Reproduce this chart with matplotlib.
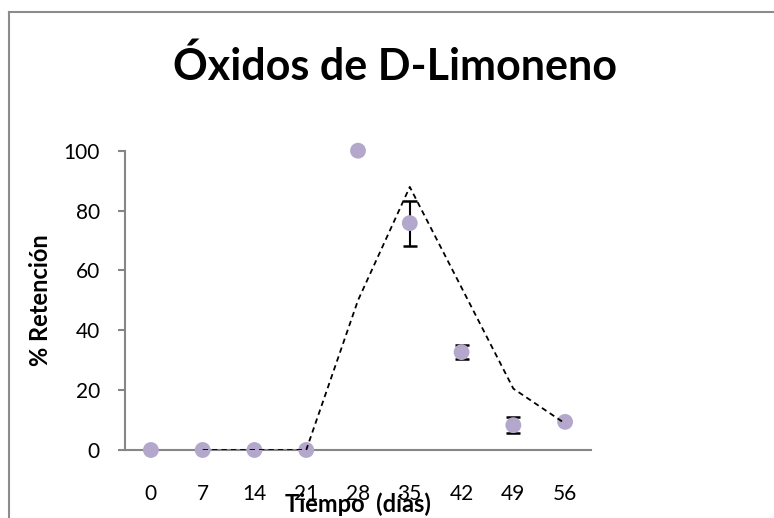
import matplotlib
matplotlib.use("Agg")
import matplotlib.pyplot as plt
import numpy as np
import pandas as pd
from matplotlib.lines import Line2D

# Sampling days and retention of D-limonene oxides (%)
dias = [0, 7, 14, 21, 28, 35, 42, 49, 56]
retencion = [0, 0, 0, 0, 100, 75.8, 32.7, 8.3, 9.4]
desviacion = [0, 0, 0, 0, 0, 7.5, 2.4, 2.75, 0]
y_ticks = [0, 20, 40, 60, 80, 100]

titulo = "Óxidos de D-Limoneno"
etiqueta_x = "Tiempo  (días)"
etiqueta_y = "% Retención"

W, H = 774, 518
DPI = 100
fig = plt.figure(figsize=(W / DPI, H / DPI), dpi=DPI)
fig.patch.set_facecolor("white")
plt.rcParams["font.family"] = ["Lato", "DejaVu Sans"]


def fx(px):
    return px / W


def fy(py):
    return 1 - py / H


# plot area in pixel coordinates
ax_left, ax_right, ax_top, ax_bottom = 125, 591, 150.7, 450
ax = fig.add_axes([fx(ax_left), fy(ax_bottom),
                   (ax_right - ax_left) / W, (ax_bottom - ax_top) / H])

axis_grey = "#868686"
marker_col = "#B3A7CC"

# error bars only where a deviation exists
d = np.array(dias, dtype=float)
r = np.array(retencion)
e = np.array(desviacion)
m = e > 0
ax.errorbar(d[m], r[m], yerr=e[m], fmt="none", ecolor="black",
            elinewidth=1.5, capsize=4.8, capthick=1.8, zorder=2)

ax.scatter(dias, retencion, s=130, color=marker_col, edgecolors="none",
           zorder=3, clip_on=False)

# two-period moving average trendline
media_movil = pd.Series(retencion, index=dias).rolling(2).mean().dropna()
ax.plot(media_movil.index, media_movil.values, linestyle=(0, (3.0, 2.2)),
        color="black", linewidth=1.3, zorder=4)

ax.set_xlim(-3.5, 59.5)
ax.set_ylim(0, 100)
ax.set_xticks(dias)
ax.set_xticklabels([str(v) for v in dias])
ax.set_yticks(y_ticks)

for s in ("top", "right"):
    ax.spines[s].set_visible(False)
for s in ("left", "bottom"):
    ax.spines[s].set_color(axis_grey)
    ax.spines[s].set_linewidth(1.5)

ax.tick_params(axis="y", direction="out", length=5.0, width=1.5,
               color=axis_grey, labelsize=15, pad=13)
ax.tick_params(axis="x", length=0, labelsize=15, pad=24.5)

fig.text(fx(395), fy(80), titulo, fontsize=31, fontweight="bold",
         ha="center", va="baseline")

fig.text(fx(358), fy(512), etiqueta_x, fontsize=17, fontweight="bold",
         ha="center", va="baseline")
fig.text(fx(40), fy(300), etiqueta_y, fontsize=17, fontweight="bold",
         ha="center", va="center", rotation=90)

# outer chart frame (left and top edges; the rest lies outside the image)
frame_col = "#8c8c8c"
fig.add_artist(Line2D([fx(9), fx(9)], [fy(11.7), 0],
                      transform=fig.transFigure, color=frame_col, linewidth=1.5))
fig.add_artist(Line2D([fx(9), 1], [fy(11.7), fy(11.7)],
                      transform=fig.transFigure, color=frame_col, linewidth=1.5))

fig.savefig("out.png", dpi=DPI, facecolor="white")
